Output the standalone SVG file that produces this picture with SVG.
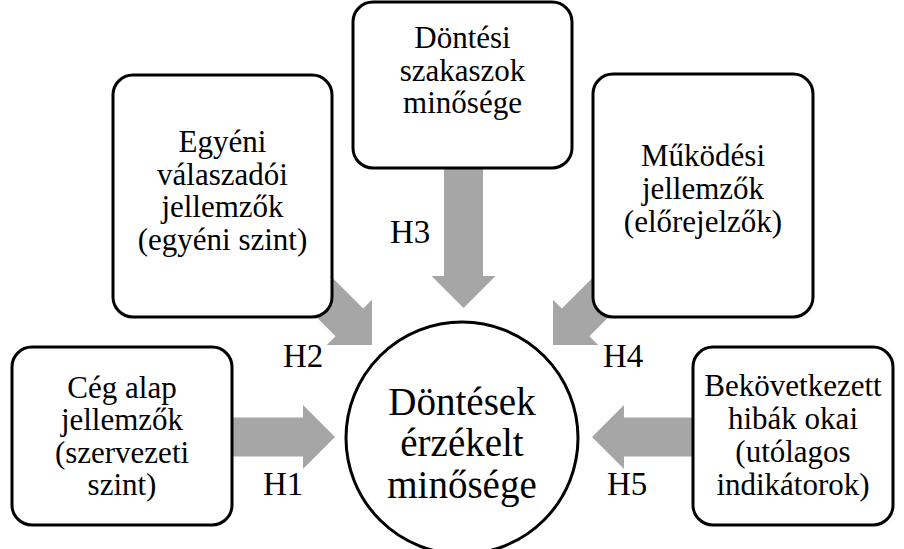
<svg xmlns="http://www.w3.org/2000/svg" width="904" height="549" viewBox="0 0 904 549">
<style>
.box{fill:#fff;stroke:#000;stroke-width:3}
.arr{fill:#a6a6a6}
.t{font-size:31px;text-anchor:middle}
.lbl{font-size:33px}
.big{font-size:39px;text-anchor:middle}
</style>
<defs>
<path id="diag" d="M-140,-19.5 H-32 V-32 L0,0 L-32,32 V19.5 H-140 Z"/>
</defs>
<rect width="904" height="549" fill="#fff"/>
<g font-family="'Liberation Serif', 'Times New Roman', serif" fill="#000">
<g id="connectors">
<path class="arr" d="M200,417.5 H303 V405 L335,437 L303,469 V456.5 H200 Z"/>
<use class="arr" href="#diag" transform="translate(372,345) rotate(45)"/>
<path class="arr" d="M444,150 V276 H431.5 L463.5,308 L495.5,276 H483 V150 Z"/>
<use class="arr" href="#diag" transform="translate(553,345) rotate(135)"/>
<path class="arr" d="M720,417.5 H624 V405 L592,437 L624,469 V456.5 H720 Z"/>
<text class="lbl" x="263" y="495">H1</text>
<text class="lbl" x="283" y="367">H2</text>
<text class="lbl" x="390" y="243">H3</text>
<text class="lbl" x="603" y="367">H4</text>
<text class="lbl" x="607" y="495">H5</text>
</g>
<g id="n1">
<rect class="box" x="12" y="347" width="220" height="178" rx="20"/>
<text class="t" x="122" y="398">Cég alap</text>
<text class="t" x="122" y="430">jellemzők</text>
<text class="t" x="122" y="463">(szervezeti</text>
<text class="t" x="122" y="495">szint)</text>
</g>
<g id="n2">
<rect class="box" x="113" y="75" width="219" height="242" rx="20"/>
<text class="t" x="222.5" y="152">Egyéni</text>
<text class="t" x="222.5" y="185">válaszadói</text>
<text class="t" x="222.5" y="217">jellemzők</text>
<text class="t" x="222.5" y="250">(egyéni szint)</text>
</g>
<g id="n3">
<rect class="box" x="353" y="2" width="219" height="166" rx="20"/>
<text class="t" x="462.5" y="48">Döntési</text>
<text class="t" x="462.5" y="81">szakaszok</text>
<text class="t" x="462.5" y="113">minősége</text>
</g>
<g id="n4">
<rect class="box" x="593" y="74" width="220" height="243" rx="20"/>
<text class="t" x="703" y="166">Működési</text>
<text class="t" x="703" y="199">jellemzők</text>
<text class="t" x="703" y="232">(előrejelzők)</text>
</g>
<g id="n5">
<rect class="box" x="693" y="347" width="200" height="178" rx="20"/>
<text class="t" x="793" y="396">Bekövetkezett</text>
<text class="t" x="793" y="429">hibák okai</text>
<text class="t" x="793" y="462">(utólagos</text>
<text class="t" x="793" y="495">indikátorok)</text>
</g>
<g id="center">
<circle class="box" cx="462" cy="438" r="116"/>
<text class="big" x="462" y="415">Döntések</text>
<text class="big" x="462" y="456">érzékelt</text>
<text class="big" x="462" y="498">minősége</text>
</g>
</g>
</svg>
